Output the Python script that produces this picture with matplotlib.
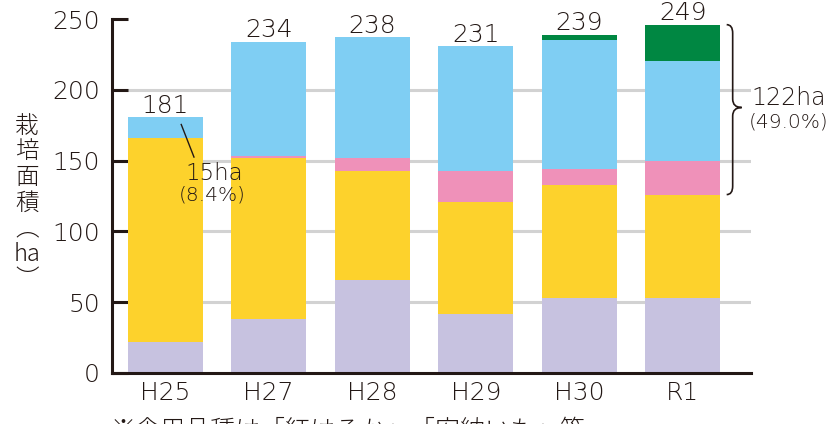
import matplotlib
matplotlib.use("Agg")
import matplotlib.pyplot as plt
from matplotlib.path import Path
from matplotlib.patches import PathPatch
import numpy as np

plt.rcParams['font.family'] = ['DejaVu Sans', 'Noto Sans CJK JP']
plt.rcParams['font.weight'] = 'light'

categories = ["H25", "H27", "H28", "H29", "H30", "R1"]
series_lavender = [22, 38, 66, 42, 53, 53]
series_yellow = [144, 114, 77, 79, 80, 73]
series_pink = [0, 1, 9, 22, 11, 24]
series_blue = [15, 81, 85, 88, 91, 70]
series_green = [0, 0, 0, 0, 4, 26]
total_labels = ["181", "234", "238", "231", "239", "249"]
y_ticks = [0, 50, 100, 150, 200, 250]

colors = ["#C7C2E0", "#FDD22C", "#EF91B9", "#7FCEF3", "#008742"]
txt = "#231815"

fig = plt.figure(figsize=(8.32, 4.24), dpi=100)
ax = fig.add_axes([112/832, 1-373/424, (751-112)/832, (373-19)/424])

x = np.arange(len(categories))
stack = [series_lavender, series_yellow, series_pink, series_blue, series_green]
bottom = np.zeros(len(categories))
for vals, c in zip(stack, colors):
    ax.bar(x, vals, width=0.725, bottom=bottom, color=c, zorder=3, linewidth=0)
    bottom = bottom + np.array(vals)

ax.set_xlim(-0.514, 5.66)
ax.set_ylim(0, 250)
ax.set_yticks(y_ticks)
for t in y_ticks[1:-1]:
    ax.axhline(t, color="#D2D2D2", lw=2.2, zorder=1)

for s in ["top", "right"]:
    ax.spines[s].set_visible(False)
for s in ["left", "bottom"]:
    ax.spines[s].set_linewidth(2.2)
    ax.spines[s].set_color(txt)
    ax.spines[s].set_zorder(5)

ax.tick_params(axis="y", direction="in", length=11.5, width=2.2, color=txt,
               labelsize=18, labelcolor=txt, pad=8.5)
ax.tick_params(axis="x", length=0, labelsize=18, labelcolor=txt, pad=6)
ax.set_xticks(x)
ax.set_xticklabels(categories)

# totals
for xi, top, lab in zip(x, bottom, total_labels):
    ax.annotate(lab, (xi, top), xytext=(0, 3), textcoords="offset points",
                ha="center", va="baseline", fontsize=18, color=txt, zorder=6)

# H25 annotation
b0 = series_lavender[0] + series_yellow[0]
ax.plot([0.155, 0.278], [b0 + 9.5, b0 - 13.5], color=txt, lw=1.0, zorder=6)
ax.text(0.47, 141, "15ha", ha="center", va="center", fontsize=16.5, color=txt,
        zorder=6)
ax.text(0.455, 126, "(8.4%)", ha="center", va="center", fontsize=14.5, color=txt,
        zorder=6)

# brace for R1
ytop = bottom[5]
ybot = series_lavender[5] + series_yellow[5]
ymid = (ytop + ybot) / 2 + 1.5
x0, x1, x2 = 5.425, 5.483, 5.57
r = 6
verts = [(x0, ytop), (x1, ytop), (x1, ytop - r),
         (x1, ymid + r), (x1, ymid), (x2, ymid),
         (x1, ymid), (x1, ymid - r),
         (x1, ybot + r), (x1, ybot), (x0, ybot)]
codes = [Path.MOVETO, Path.CURVE3, Path.CURVE3,
         Path.LINETO, Path.CURVE3, Path.CURVE3,
         Path.CURVE3, Path.CURVE3,
         Path.LINETO, Path.CURVE3, Path.CURVE3]
ax.add_patch(PathPatch(Path(verts, codes), fill=False, edgecolor=txt, lw=1.2,
                       clip_on=False, zorder=6))
ax.text(6.02, 194, "122ha", ha="center", va="center", fontsize=17, color=txt,
        clip_on=False)
ax.text(6.02, 177, "(49.0%)", ha="center", va="center", fontsize=14.5, color=txt,
        clip_on=False)

# y label (vertical)
fig.text(27/832, 1-203/424, "栽\n培\n面\n積\n︵\nha\n︶", ha="center", va="center",
         fontsize=17, color=txt, linespacing=1.03,
         family=['Noto Sans CJK JP', 'DejaVu Sans'])

# footnote (cut off at bottom edge, as in the reference)
fig.text(111/832, 1-417/424, "※食用品種は「紅はるか」「安納いも」等",
         ha="left", va="top", fontsize=18, color=txt,
         family=['Noto Sans CJK JP', 'DejaVu Sans'])

fig.savefig("out.png", dpi=100)
